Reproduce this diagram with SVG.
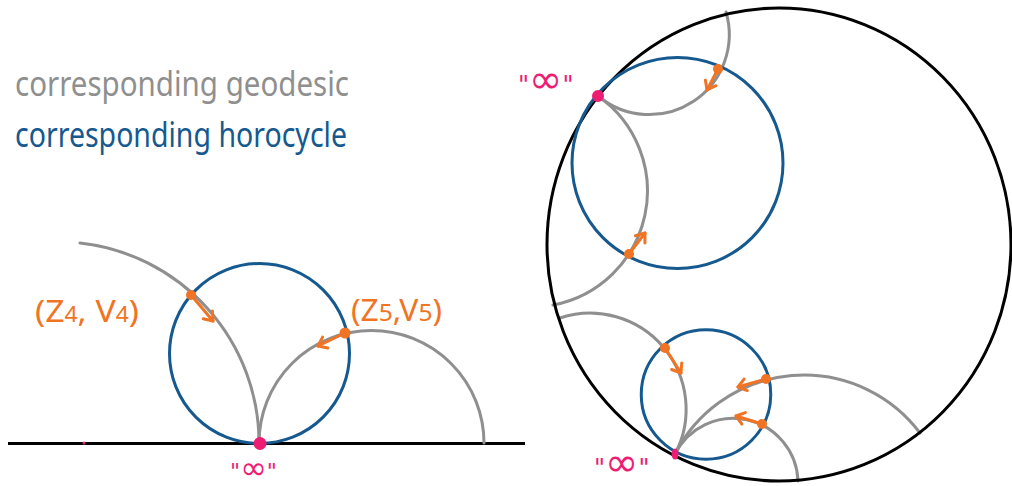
<svg xmlns="http://www.w3.org/2000/svg" width="1012" height="486" viewBox="0 0 1012 486">
  <style>
    .geo { fill: none; stroke: #8f8f8f; stroke-width: 3; stroke-linecap: round; }
    .horo { fill: none; stroke: #15598f; stroke-width: 3; }
    .bound { fill: none; stroke: #000; stroke-width: 3; }
    .arr { fill: none; stroke: #f07424; stroke-width: 3; stroke-linecap: round; marker-end: url(#head); }
    .dot { fill: #f07424; }
    .inf { fill: #ee1d74; }
    .lbl { font-family: "Noto Sans", "DejaVu Sans", sans-serif; fill: #f07424; }
    .infl { font-family: "DejaVu Sans", sans-serif; fill: #ee1d74; }
  </style>
  <defs>
    <marker id="head" markerUnits="userSpaceOnUse" viewBox="-12 -9 16 18" refX="0" refY="0" markerWidth="16" markerHeight="18" orient="auto">
      <path d="M-8,-6 L0,0 L-8,6" fill="none" stroke="#f07424" stroke-width="3" stroke-linecap="round" stroke-linejoin="round"/>
    </marker>
  </defs>
  <rect width="1012" height="486" fill="#fff"/>

  <g id="legend">
    <text x="15" y="96" font-family="Noto Sans, sans-serif" font-size="34" fill="#8f8f8f" textLength="334" lengthAdjust="spacingAndGlyphs">corresponding geodesic</text>
    <text x="15" y="147" font-family="Noto Sans, sans-serif" font-size="34" fill="#15598f" textLength="332" lengthAdjust="spacingAndGlyphs">corresponding horocycle</text>
  </g>

  <g id="half-plane">
    <line class="bound" x1="8" y1="443.5" x2="525" y2="443.5"/>
    <circle cx="84" cy="443" r="1.5" fill="#ee1d74"/>
  </g>

  <g id="connectors">
    <!-- half-plane geodesics -->
    <path class="geo" d="M80,243 A201.2,201.2 0 0 1 259,443"/>
    <path class="geo" d="M259,443 A112.5,112.5 0 0 1 484,443"/>
    <!-- disk upper geodesics -->
    <path class="geo" d="M598,96 A80,80 0 0 0 726,12"/>
    <path class="geo" d="M598,96 A116,116 0 0 1 553,305"/>
    <!-- disk lower geodesics -->
    <path class="geo" d="M560,318 A96,96 0 0 1 675,454"/>
    <path class="geo" d="M675,454 A145,145 0 0 1 920,433"/>
    <path class="geo" d="M675,454 A65,65 0 0 1 798,481"/>
  </g>

  <g id="horocycle-left">
    <circle class="horo" cx="259.5" cy="353.5" r="90"/>
  </g>
  <g id="disk">
    <ellipse class="bound" cx="779" cy="244.5" rx="232" ry="236.5"/>
  </g>
  <g id="horocycle-upper">
    <circle class="horo" cx="677.5" cy="163" r="105.5"/>
  </g>
  <g id="horocycle-lower">
    <circle class="horo" cx="706" cy="394.5" r="64.75"/>
  </g>

  <g id="arrows">
    <line class="arr" x1="191" y1="295" x2="213" y2="321"/>
    <line class="arr" x1="345" y1="333" x2="318" y2="346"/>
    <line class="arr" x1="718" y1="69" x2="707" y2="90"/>
    <line class="arr" x1="629" y1="254" x2="645" y2="233"/>
    <line class="arr" x1="665" y1="348" x2="681" y2="373"/>
    <line class="arr" x1="766" y1="379" x2="738" y2="387"/>
    <line class="arr" x1="762" y1="424" x2="736" y2="416"/>
  </g>

  <g id="points">
    <circle class="dot" cx="191" cy="295" r="5"/>
    <circle class="dot" cx="345" cy="333" r="5.5"/>
    <circle class="dot" cx="718" cy="69" r="5"/>
    <circle class="dot" cx="629" cy="254" r="5"/>
    <circle class="dot" cx="665" cy="348" r="5"/>
    <circle class="dot" cx="766" cy="379" r="5"/>
    <circle class="dot" cx="762" cy="424" r="5"/>
    <circle class="inf" cx="260" cy="443.5" r="6.5"/>
    <circle class="inf" cx="598" cy="96" r="6"/>
    <ellipse class="inf" cx="675" cy="454" rx="3.5" ry="5.5"/>
  </g>

  <g id="labels">
    <text class="lbl" x="35" y="322" font-size="31" textLength="104" lengthAdjust="spacingAndGlyphs">(Z<tspan font-size="21">4</tspan>, V<tspan font-size="21">4</tspan>)</text>
    <text class="lbl" x="351" y="321" font-size="31" textLength="91" lengthAdjust="spacingAndGlyphs">(Z<tspan font-size="24">5</tspan>,V<tspan font-size="24">5</tspan>)</text>
    <text class="infl" x="230" y="479" font-size="22">"<tspan font-size="32">∞</tspan>"</text>
    <text class="infl" x="518" y="93" font-size="24">"<tspan font-size="40">∞</tspan>"</text>
    <text class="infl" x="594" y="476" font-size="24">"<tspan font-size="40">∞</tspan>"</text>
  </g>
</svg>
